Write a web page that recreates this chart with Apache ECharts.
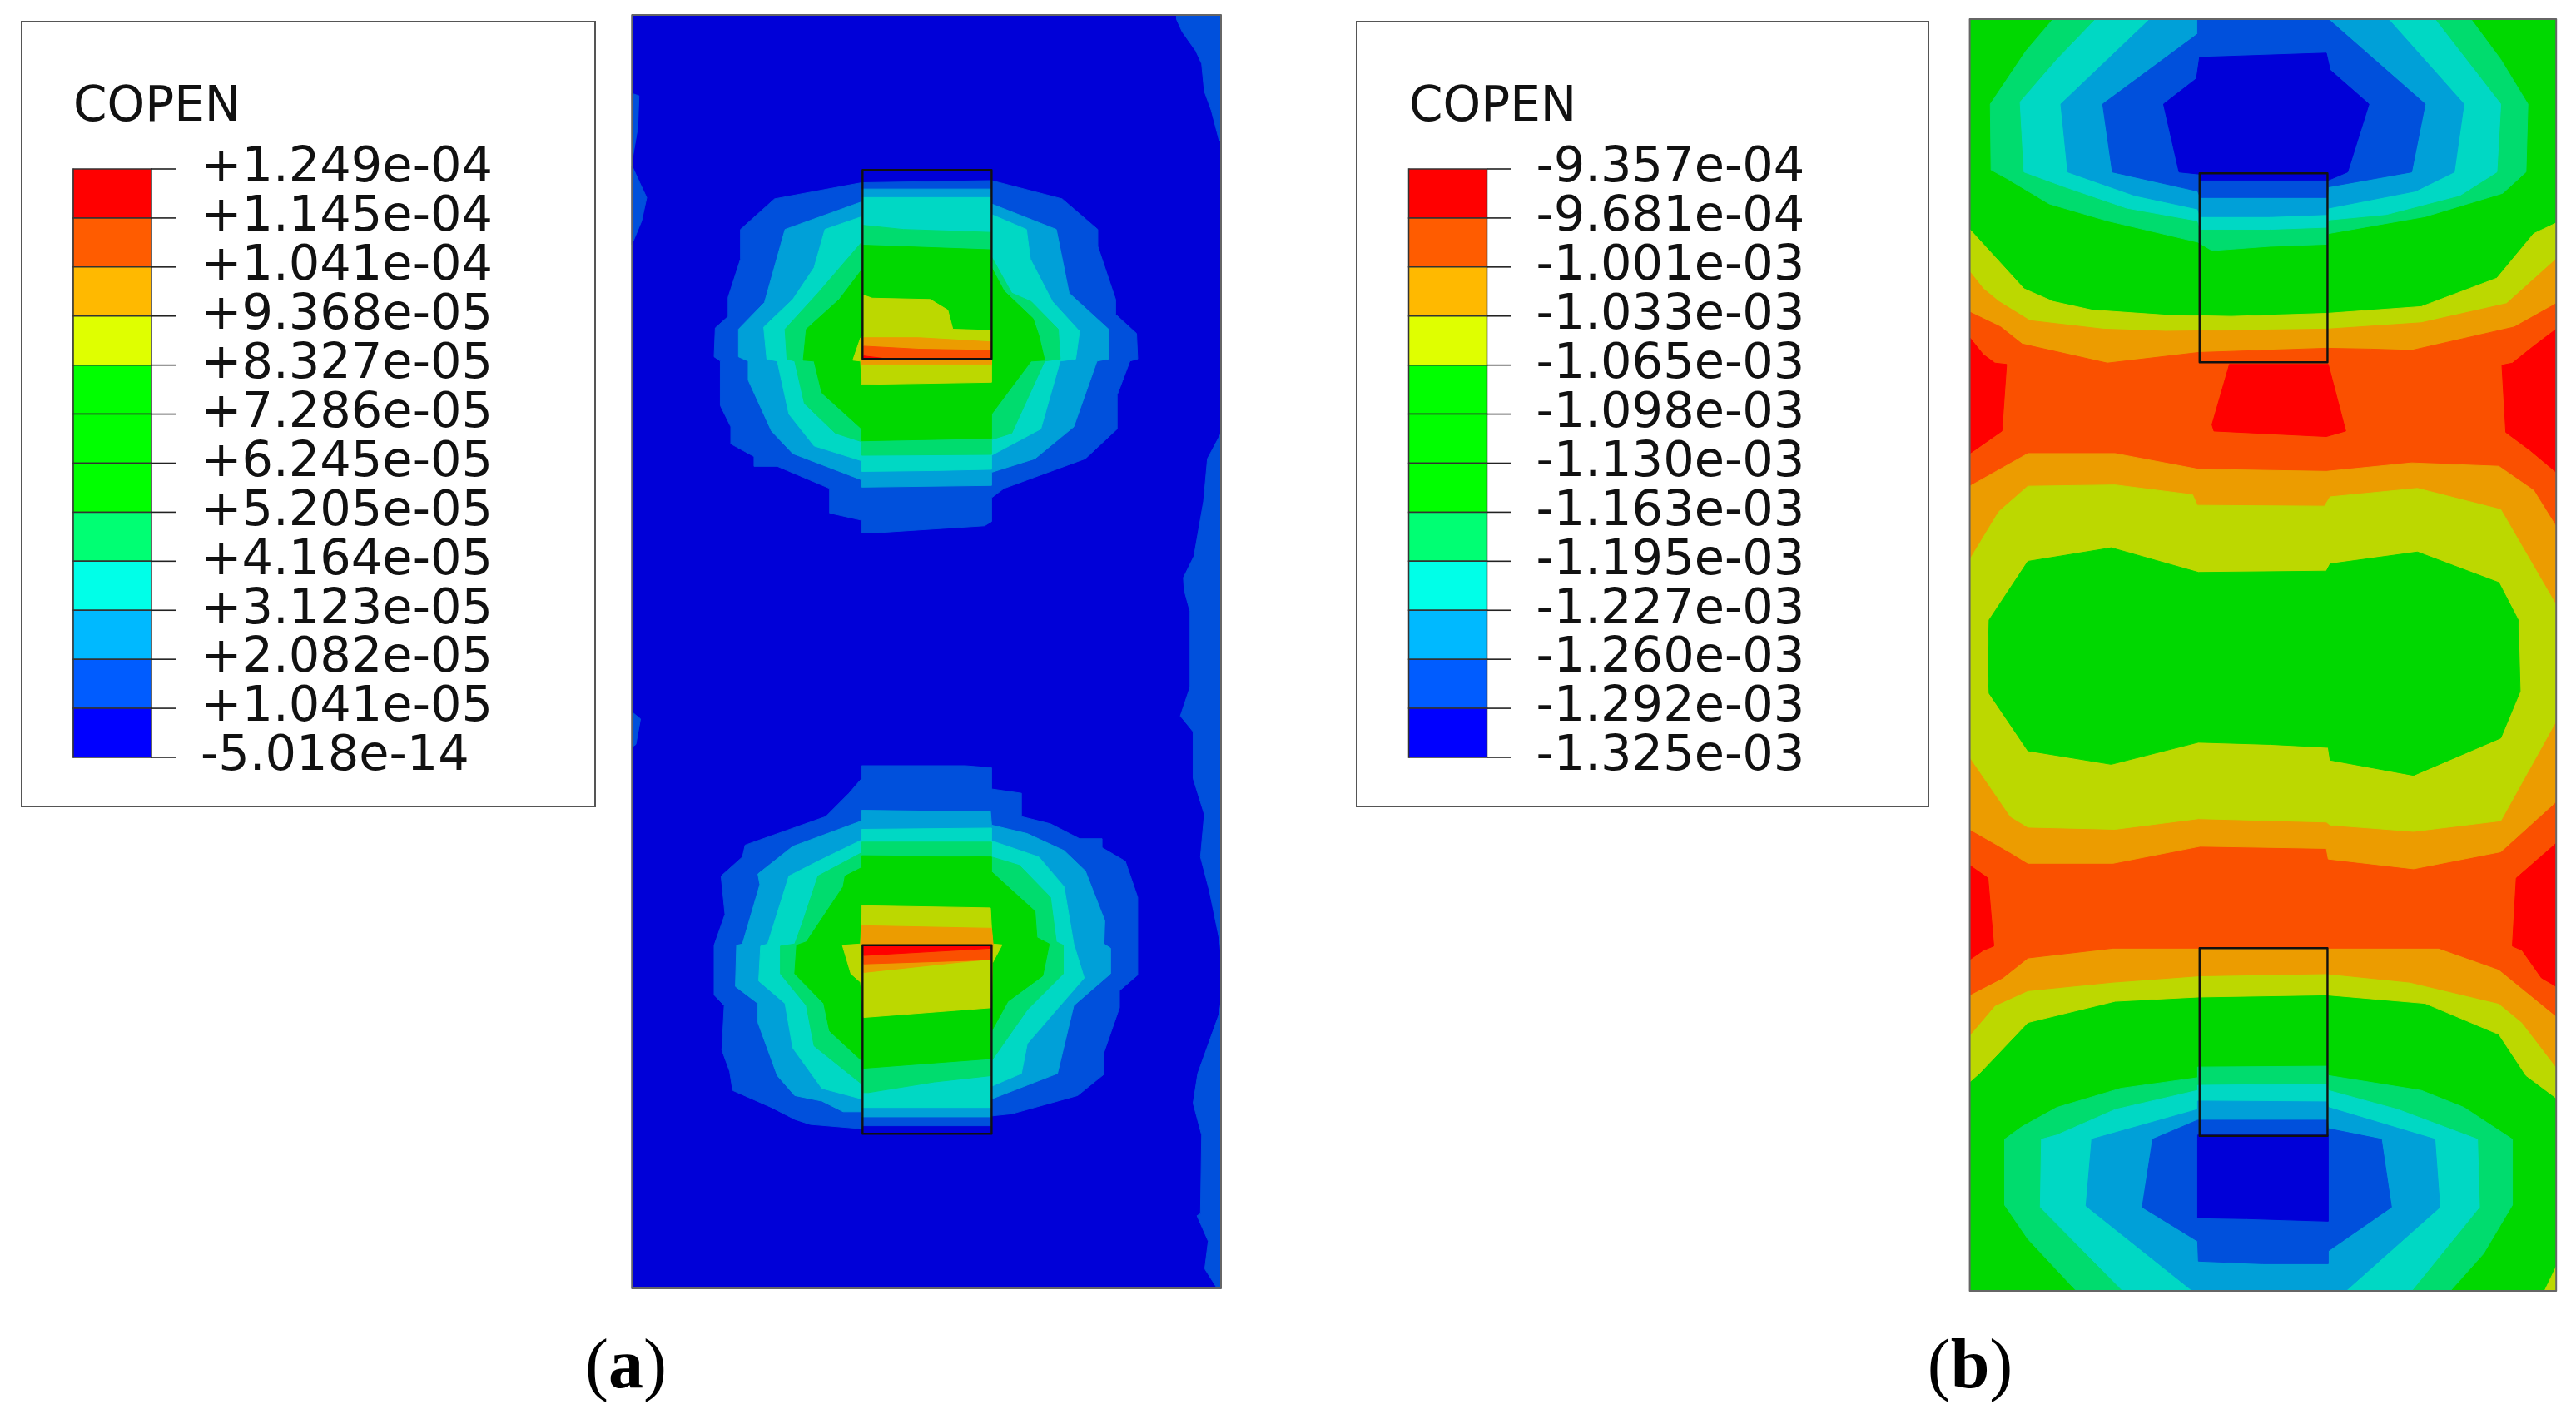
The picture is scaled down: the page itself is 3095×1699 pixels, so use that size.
<!DOCTYPE html>
<html>
<head>
<meta charset="utf-8">
<style>html,body{margin:0;padding:0;background:#fff}#c{width:3095px;height:1699px}</style>
<script src="https://cdn.jsdelivr.net/npm/echarts@6/dist/echarts.min.js"></script>
</head>
<body>
<div id="c"></div>
<script>
// ---------- legend content ----------
var legendTitle = 'COPEN';
var ticksA = ['+1.249e-04','+1.145e-04','+1.041e-04','+9.368e-05','+8.327e-05','+7.286e-05','+6.245e-05','+5.205e-05','+4.164e-05','+3.123e-05','+2.082e-05','+1.041e-05','-5.018e-14'];
var ticksB = ['-9.357e-04','-9.681e-04','-1.001e-03','-1.033e-03','-1.065e-03','-1.098e-03','-1.130e-03','-1.163e-03','-1.195e-03','-1.227e-03','-1.260e-03','-1.292e-03','-1.325e-03'];
var legendColors = ['#ff0000','#ff5c00','#ffb900','#dfff00','#00ff00','#00ff00','#00ff00','#00ff73','#00ffe8','#00b9ff','#005cff','#0000ff'];
var shadedColors = ['#0000d8','#0050dc','#00a0d8','#00d8c4','#00dc6e','#00d800','#bcd800','#ec9c00','#fa5000','#ff0000'];
var low = function (pts) { return pts.map(function (p) { return [p[0], p[1] + 1568]; }); };

// ---------- panel (a): contour outlines ----------
var aFrame = [[20,35],[1540,35],[1540,3034],[20,3034]];
var aEdgeTop = [[1425,35],[1540,35],[1540,335],[1535,330],[1515,260],[1497,215],[1490,150],[1475,120],[1440,75],[1425,45]];
var aEdgeL1 = [[20,220],[38,225],[35,300],[22,370]];
var aEdgeL2 = [[20,390],[40,430],[58,465],[45,520],[20,575]];
var aEdgeL3 = low([[22,110],[42,125],[30,185],[22,190]]);
var aEdgeR1 = [[1540,1020],[1505,1080],[1495,1180],[1470,1310],[1443,1360],[1445,1390],[1460,1440]].concat(low([[1460,50],[1435,118],[1468,155],[1468,265],[1497,350],[1487,450],[1510,530],[1537,650],[1540,680]]));
var aEdgeR2 = low([[1540,790],[1535,820],[1480,960],[1468,1030],[1490,1105],[1487,1290],[1478,1295],[1507,1355],[1498,1420],[1530,1466],[1540,1466]]);

var aUp1 = [[613,430],[948,425],[1130,468],[1222,540],[1222,580],[1268,705],[1268,740],[1322,785],[1325,845],[1305,850],[1272,930],[1272,1010],[1190,1080],[980,1150],[948,1172],[948,1228],[930,1238],[640,1255],[613,1255],[613,1225],[530,1208],[530,1150],[395,1098],[335,1098],[335,1075],[275,1045],[275,1005],[248,955],[248,850],[232,840],[235,772],[268,745],[268,700],[300,610],[300,540],[388,468]];
var aUp2 = [[613,445],[948,445],[948,480],[1115,540],[1148,690],[1250,775],[1250,845],[1220,850],[1160,1005],[1060,1080],[948,1112],[948,1143],[613,1147],[613,1130],[435,1068],[380,1015],[320,895],[320,850],[295,840],[295,775],[362,712],[415,540],[613,475]];
var aUp3 = [[613,465],[948,465],[948,505],[1038,540],[1048,610],[1105,710],[1175,780],[1165,845],[1125,850],[1075,1010],[948,1072],[948,1105],[800,1108],[613,1110],[613,1085],[490,1050],[425,975],[395,850],[368,845],[360,770],[435,705],[490,630],[518,540],[613,510]];
var aUp4 = [[613,530],[720,540],[948,547],[948,605],[1000,690],[1050,710],[1120,775],[1125,845],[1085,850],[1000,1020],[948,1035],[948,1070],[613,1072],[613,1040],[545,1020],[465,950],[440,850],[420,845],[415,775],[500,690],[613,570]];
var aUp5 = [[613,577],[948,588],[948,630],[980,685],[1055,750],[1070,790],[1085,848],[1050,850],[948,975],[948,1032],[613,1038],[613,1010],[510,925],[490,850],[462,848],[470,775],[555,705],[613,635]];
var aUp6 = [[618,695],[640,702],[790,705],[835,730],[848,775],[948,778],[948,845],[948,900],[613,905],[610,850],[590,848],[610,795],[618,790]];
var aUp7 = [[618,795],[760,795],[948,805],[948,858],[613,858],[613,820]];
var aUp8 = [[618,815],[760,822],[948,825],[948,845],[618,845]];
var aUp9 = [[618,838],[680,845],[618,845]];
var aUpBox = [[615,400],[948,400],[948,845],[615,845]];

var aLo1 = low([[613,235],[880,235],[948,240],[948,290],[1025,300],[1025,355],[1100,372],[1175,407],[1233,407],[1233,428],[1293,460],[1325,545],[1325,728],[1278,765],[1278,805],[1238,910],[1238,962],[1170,1012],[1000,1055],[948,1060],[948,1083],[613,1083],[613,1090],[480,1080],[440,1068],[380,1040],[280,1000],[272,955],[252,905],[258,800],[232,775],[232,658],[260,585],[250,495],[305,450],[312,422],[520,355],[580,300],[613,265]]);
var aLo2 = low([[613,340],[775,342],[945,342],[948,375],[1040,395],[1135,435],[1190,483],[1240,600],[1238,655],[1255,665],[1255,725],[1160,800],[1118,960],[948,1020],[948,1062],[613,1062],[613,1050],[565,1050],[510,1025],[440,1012],[395,965],[345,840],[345,795],[287,755],[290,658],[305,655],[350,515],[345,490],[435,425],[613,365]]);
var aLo3 = low([[613,385],[948,382],[948,412],[1070,450],[1135,520],[1160,655],[1187,735],[1125,800],[1040,890],[1025,960],[948,990],[948,1040],[613,1040],[613,1020],[510,995],[435,900],[415,795],[347,742],[352,660],[370,655],[425,495],[500,460],[613,410]]);
var aLo4 = low([[613,415],[948,415],[948,450],[1020,470],[1100,545],[1115,650],[1133,658],[1133,725],[1040,810],[948,930],[948,965],[800,980],[630,1005],[613,1005],[613,985],[490,895],[470,800],[403,725],[403,660],[440,655],[460,605],[500,495],[613,440]]);
var aLo5 = low([[613,447],[948,450],[948,485],[1060,578],[1065,640],[1097,655],[1080,730],[990,790],[948,860],[948,925],[613,948],[613,930],[530,860],[515,795],[440,725],[445,658],[470,650],[565,520],[570,495],[613,475]]);
var aLo6 = low([[613,565],[945,570],[950,655],[975,657],[950,700],[948,805],[618,828],[610,745],[585,725],[563,658],[610,655]]);
var aLo7 = low([[613,612],[948,618],[952,657],[948,690],[618,722],[618,658],[610,655]]);
var aLo8 = low([[618,680],[948,665],[948,692],[618,702]]);
var aLo9 = low([[618,660],[948,660],[948,665],[618,682]]);
var aLoBox = low([[615,658],[948,658],[948,1102],[615,1102]]);

var aLayers = [[0,aFrame],[1,aEdgeTop],[1,aEdgeL1],[1,aEdgeL2],[1,aEdgeL3],[1,aEdgeR1],[1,aEdgeR2],
  [1,aUp1],[2,aUp2],[3,aUp3],[4,aUp4],[5,aUp5],[6,aUp6],[7,aUp7],[8,aUp8],[9,aUp9],
  [1,aLo1],[2,aLo2],[3,aLo3],[4,aLo4],[5,aLo5],[6,aLo6],[7,aLo7],[8,aLo8],[9,aLo9]];
var aOutlines = [aUpBox, aLoBox];

// ---------- panel (b) ----------
var bFrame = [[25,45],[1538,45],[1538,3040],[25,3040]];
var bYellow = [[25,540],[165,680],[240,710],[340,730],[530,742],[700,745],[945,738],[1190,722],[1385,655],[1480,550],[1538,525]].concat(low([[1538,1018],[1460,965],[1390,868],[1200,795],[945,775],[615,780],[400,790],[175,840],[50,960],[25,980]]));
var bOrange = [[25,640],[60,680],[100,710],[180,755],[370,775],[530,780],[720,778],[945,775],[1190,760],[1410,715],[1538,610]].concat(low([[1538,945],[1450,840],[1390,795],[1160,745],[945,725],[620,730],[395,745],[175,765],[90,800],[25,870]]));
var bHot = [[25,735],[105,770],[160,810],[380,855],[615,830],[945,820],[1060,822],[1165,825],[1430,770],[1538,715]].concat(low([[1538,825],[1390,715],[1235,665],[395,665],[175,688],[110,735],[25,775]]));
var bMidOrange = [[25,1145],[175,1068],[400,1068],[615,1105],[945,1110],[1165,1090],[1390,1098],[1480,1155],[1538,1240]].concat(low([[1538,320],[1395,438],[1170,478],[950,455],[945,430],[620,425],[395,465],[175,465],[130,440],[25,385]]));
var bMidYellow = [[25,1318],[100,1205],[175,1145],[400,1142],[600,1165],[612,1190],[940,1192],[955,1170],[1180,1150],[1395,1200],[1538,1425]].concat(low([[1538,130],[1395,365],[1170,390],[955,375],[945,368],[615,360],[400,385],[175,380],[130,355],[25,215]]));
var bLens = [[175,1322],[390,1290],[615,1348],[945,1345],[955,1328],[1180,1300],[1390,1372],[1440,1460]].concat(low([[1445,60],[1395,170],[1170,258],[955,222],[950,192],[800,185],[615,180],[390,232],[175,200],[75,65],[72,0]]),[[75,1460]]);
var bRedL1 = [[25,795],[60,835],[90,855],[120,858],[108,1015],[25,1068]];
var bRedR1 = [[1538,775],[1480,815],[1425,855],[1398,860],[1408,1018],[1470,1060],[1538,1112]];
var bRedC = [[695,858],[950,858],[995,1015],[945,1028],[655,1015],[650,1000]];
var bRedL2 = low([[25,470],[72,500],[87,660],[60,670],[25,692]]);
var bRedR2 = low([[1538,418],[1435,500],[1425,660],[1450,670],[1500,735],[1538,755]]);
var bCorner = low([[1508,1472],[1538,1415],[1538,1472]]);

var bUp4 = [[240,45],[1318,45],[1395,140],[1465,245],[1460,405],[1400,455],[1200,510],[950,550],[948,575],[800,580],[650,590],[613,570],[380,520],[230,480],[120,420],[80,400],[78,245],[170,120]];
var bUp3 = [[350,45],[1225,45],[1395,245],[1385,405],[1290,460],[1100,505],[950,518],[948,535],[800,540],[620,540],[613,520],[430,490],[270,440],[165,405],[155,240],[250,140]];
var bUp2 = [[490,45],[1105,45],[1300,245],[1275,405],[1175,450],[950,490],[948,505],[800,510],[620,510],[613,492],[450,460],[278,405],[260,245]];
var bUp1 = [[613,45],[950,45],[1200,245],[1165,405],[950,440],[948,465],[620,465],[613,450],[393,405],[368,245],[613,80]];
var bUp0 = [[618,135],[945,125],[955,165],[1055,245],[1000,405],[948,425],[618,425],[618,410],[565,405],[525,245],[610,185]];
var bUpBox = [[618,408],[948,408],[948,853],[618,853]];

var bLo4 = low([[115,1115],[160,1085],[250,1040],[415,995],[613,970],[613,945],[948,943],[950,965],[1190,1000],[1300,1040],[1425,1115],[1425,1270],[1350,1385],[1265,1472],[300,1472],[175,1350],[115,1270]]);
var bLo3 = low([[210,1115],[250,1105],[400,1045],[613,1000],[613,988],[948,985],[950,1000],[1130,1045],[1335,1115],[1340,1275],[1165,1472],[420,1472],[207,1275]]);
var bLo2 = low([[340,1115],[613,1045],[613,1025],[948,1027],[950,1040],[1225,1115],[1238,1275],[995,1472],[600,1472],[325,1272]]);
var bLo1 = low([[497,1115],[613,1070],[948,1070],[950,1090],[1087,1115],[1113,1275],[950,1378],[950,1408],[780,1408],[615,1402],[613,1355],[470,1275]]);
var bLo0 = low([[613,1105],[950,1105],[950,1308],[740,1302],[613,1300]]);
var bLoBox = low([[618,665],[948,665],[948,1107],[618,1107]]);

var bLayers = [[5,bFrame],[6,bYellow],[7,bOrange],[8,bHot],[7,bMidOrange],[6,bMidYellow],[5,bLens],
  [9,bRedL1],[9,bRedR1],[9,bRedC],[9,bRedL2],[9,bRedR2],[6,bCorner],
  [4,bUp4],[3,bUp3],[2,bUp2],[1,bUp1],[0,bUp0],
  [4,bLo4],[3,bLo3],[2,bLo2],[1,bLo1],[0,bLo0]];
var bOutlines = [bUpBox, bLoBox];

// ---------- helpers ----------
function contourSeries(name, idx, layers, outlines, frame) {
  var items = layers.map(function (l) { return { pts: l[1], fill: shadedColors[l[0]], stroke: shadedColors[l[0]], w: 1 }; })
    .concat(outlines.map(function (o) { return { pts: o, fill: 'none', stroke: '#111', w: 2.4 }; }))
    .concat([{ pts: frame, fill: 'none', stroke: '#666', w: 2 }]);
  return {
    type: 'custom', name: name, xAxisIndex: idx, yAxisIndex: idx, clip: false, silent: true,
    data: items.map(function (_, i) { return [i, i]; }),
    encode: { x: 0, y: 1 },
    renderItem: function (params, api) {
      var it = items[params.dataIndex];
      return { type: 'polygon',
        shape: { points: it.pts.map(function (p) { return api.coord(p); }) },
        style: { fill: it.fill, stroke: it.stroke, lineWidth: it.w, lineJoin: 'round' } };
    }
  };
}
function barSeries(name, idx) {
  var tickLen = 29, n = legendColors.length;
  function tick(x, y) {
    return { type: 'line', shape: { x1: x, y1: y, x2: x + tickLen, y2: y }, style: { stroke: '#222', lineWidth: 1.6 } };
  }
  return {
    type: 'custom', name: name, xAxisIndex: idx, yAxisIndex: idx, clip: false, silent: true,
    data: legendColors.map(function (_, i) { return [0, i]; }),
    encode: { x: 0, y: 1 },
    renderItem: function (params, api) {
      var i = params.dataIndex, a = api.coord([0, i]), b = api.coord([1, i + 1]);
      var kids = [
        { type: 'rect', shape: { x: a[0], y: a[1], width: b[0] - a[0], height: b[1] - a[1] },
          style: { fill: legendColors[i], stroke: '#333', lineWidth: 1.5 } },
        tick(b[0], a[1])
      ];
      if (i === n - 1) kids.push(tick(b[0], b[1]));
      return { type: 'group', children: kids };
    }
  };
}
function hiddenX(idx, min, max) { return { type: 'value', gridIndex: idx, min: min, max: max, show: false }; }
function hiddenY(idx, min, max) { return { type: 'value', gridIndex: idx, min: min, max: max, inverse: true, show: false }; }
function legendY(idx, labels) {
  return { type: 'category', gridIndex: idx, data: labels, inverse: true, position: 'right', boundaryGap: false,
    axisLine: { show: true, lineStyle: { color: '#666', width: 1.5 } },
    axisTick: { show: false },
    axisLabel: { show: true, interval: 0, margin: 59, align: 'left', hideOverlap: false, padding: [4, 0, 0, 0],
      fontFamily: 'DejaVu Sans', fontSize: 59, color: '#111', lineHeight: 59 } };
}
function caption(cx, letter) {
  return { text: '{p|(}{b|' + letter + '}{p|)}', left: cx, top: 1590, textAlign: 'center',
    textStyle: { rich: {
      p: { fontFamily: 'Liberation Serif', fontSize: 84, fontWeight: 'normal', color: '#000', lineHeight: 100 },
      b: { fontFamily: 'Liberation Serif', fontSize: 84, fontWeight: 'bold', color: '#000', lineHeight: 100 } } } };
}

var chart = echarts.init(document.getElementById('c'), null, { renderer: 'canvas', width: 3095, height: 1699 });
chart.setOption({
  animation: false,
  backgroundColor: '#ffffff',
  title: [
    { text: legendTitle, left: 83, top: 96, textStyle: { fontFamily: 'DejaVu Sans', fontSize: 58, fontWeight: 'normal', color: '#111' } },
    { text: legendTitle, left: 1688, top: 96, textStyle: { fontFamily: 'DejaVu Sans', fontSize: 58, fontWeight: 'normal', color: '#111' } },
    caption(747, 'a'), caption(2362, 'b')
  ],
  graphic: [
    { type: 'rect', shape: { x: 26, y: 26, width: 689, height: 943 }, style: { fill: '#fff', stroke: '#555', lineWidth: 2 }, z: -1 },
    { type: 'rect', shape: { x: 1630, y: 26, width: 687, height: 943 }, style: { fill: '#fff', stroke: '#555', lineWidth: 2 }, z: -1 }
  ],
  grid: [
    { left: 88, top: 203, width: 94, height: 707 },
    { left: 759.3, top: 18, width: 707.7, height: 1530 },
    { left: 1692.5, top: 203, width: 94, height: 707 },
    { left: 2366.6, top: 23, width: 704.6, height: 1528 }
  ],
  xAxis: [hiddenX(0, 0, 1), hiddenX(1, 20, 1540), hiddenX(2, 0, 1), hiddenX(3, 25, 1538)],
  yAxis: [legendY(0, ticksA), hiddenY(1, 35, 3034), legendY(2, ticksB), hiddenY(3, 45, 3040)],
  series: [
    barSeries('legend a', 0),
    contourSeries('COPEN a', 1, aLayers, aOutlines, aFrame),
    barSeries('legend b', 2),
    contourSeries('COPEN b', 3, bLayers, bOutlines, bFrame)
  ]
});
</script>
</body>
</html>
